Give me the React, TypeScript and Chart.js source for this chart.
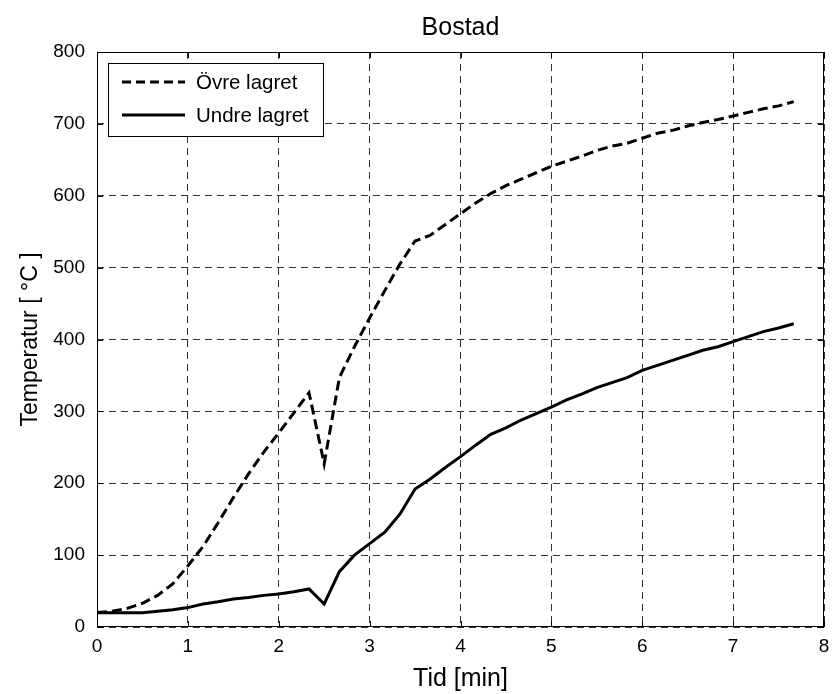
import React, { useEffect, useRef } from "react";
import { Chart, registerables } from "chart.js";

Chart.register(...registerables);

const TITLE = "Bostad";
const X_TITLE = "Tid [min]";
const Y_TITLE = "Temperatur [ °C ]";
const SERIES_NAMES = ["Övre lagret", "Undre lagret"];

// time in minutes (10 s steps)
const TIME = [
  0, 0.167, 0.333, 0.5, 0.667, 0.833, 1.0, 1.167, 1.333, 1.5, 1.667, 1.833,
  2.0, 2.167, 2.333, 2.5, 2.667, 2.833, 3.0, 3.167, 3.333, 3.5, 3.667, 3.833,
  4.0, 4.167, 4.333, 4.5, 4.667, 4.833, 5.0, 5.167, 5.333, 5.5, 5.667, 5.833,
  6.0, 6.167, 6.333, 6.5, 6.667, 6.833, 7.0, 7.167, 7.333, 7.5, 7.667,
];

const OVRE = [
  20, 22, 26, 33, 44, 60, 85, 112, 145, 180, 213, 243,
  270, 298, 326, 227, 347, 390, 430, 468, 505, 537, 545, 560,
  575, 590, 603, 614, 623, 632, 641, 648, 655, 663, 669, 673,
  680, 687, 691, 697, 702, 706, 711, 716, 721, 725, 731,
];

const UNDRE = [
  20, 20, 20, 20, 22, 24, 27, 32, 35, 39, 41, 44,
  46, 49, 53, 32, 77, 100, 116, 132, 157, 192, 206, 222,
  237, 253, 268, 277, 288, 297, 306, 316, 324, 333, 340, 347,
  357, 364, 371, 378, 385, 390, 397, 404, 411, 416, 422,
];

const X_MIN = 0;
const X_MAX = 8;
const Y_MIN = 0;
const Y_MAX = 800;

const FONT = "Arial, 'Liberation Sans', Helvetica, sans-serif";

const framePlugin = {
  id: "frame",
  afterDraw(chart: any) {
    const { ctx, chartArea: a, scales } = chart;
    const xs = scales.x;
    const ys = scales.y;
    ctx.save();
    ctx.strokeStyle = "#000";
    ctx.lineWidth = 1;
    ctx.setLineDash([]);
    ctx.strokeRect(a.left + 0.5, a.top + 0.5, a.right - a.left - 1, a.bottom - a.top - 1);
    const tl = 6;
    ctx.beginPath();
    for (let v = X_MIN; v <= X_MAX; v += 1) {
      const px = Math.round(xs.getPixelForValue(v)) + 0.5;
      ctx.moveTo(px, a.bottom);
      ctx.lineTo(px, a.bottom - tl);
      ctx.moveTo(px, a.top);
      ctx.lineTo(px, a.top + tl);
    }
    for (let v = Y_MIN; v <= Y_MAX; v += 100) {
      const py = Math.round(ys.getPixelForValue(v)) + 0.5;
      ctx.moveTo(a.left, py);
      ctx.lineTo(a.left + tl, py);
      ctx.moveTo(a.right, py);
      ctx.lineTo(a.right - tl, py);
    }
    ctx.stroke();

    ctx.fillStyle = "#000";
    ctx.font = `25px ${FONT}`;
    ctx.textAlign = "center";
    ctx.textBaseline = "middle";
    ctx.fillText(TITLE, (a.left + a.right) / 2, 28);

    const lx = 108, ly = 63, lw = 215, lh = 73;
    ctx.fillStyle = "#fff";
    ctx.fillRect(lx, ly, lw, lh);
    ctx.strokeStyle = "#000";
    ctx.lineWidth = 1;
    ctx.strokeRect(lx + 0.5, ly + 0.5, lw, lh);
    const rows = [
      { y: ly + 19, dash: [9, 5] },
      { y: ly + 52, dash: [] as number[] },
    ];
    ctx.font = `20.5px ${FONT}`;
    ctx.textAlign = "left";
    rows.forEach((r, i) => {
      ctx.beginPath();
      ctx.setLineDash(r.dash);
      ctx.lineWidth = 3;
      ctx.strokeStyle = "#000";
      ctx.moveTo(lx + 14, r.y);
      ctx.lineTo(lx + 77, r.y);
      ctx.stroke();
      ctx.setLineDash([]);
      ctx.fillStyle = "#000";
      ctx.fillText(SERIES_NAMES[i], lx + 88, r.y + 1);
    });
    ctx.restore();
  },
};

export default function App() {
  const ref = useRef<HTMLCanvasElement | null>(null);

  useEffect(() => {
    const canvas = ref.current;
    if (!canvas) return;
    const chart = new Chart(canvas, {
      type: "line",
      data: {
        datasets: [
          {
            label: SERIES_NAMES[0],
            data: TIME.map((t, i) => ({ x: t, y: OVRE[i] })),
            borderColor: "#000",
            borderWidth: 3,
            borderDash: [10, 5],
            pointRadius: 0,
            fill: false,
            tension: 0,
          },
          {
            label: SERIES_NAMES[1],
            data: TIME.map((t, i) => ({ x: t, y: UNDRE[i] })),
            borderColor: "#000",
            borderWidth: 3,
            pointRadius: 0,
            fill: false,
            tension: 0,
          },
        ],
      },
      options: {
        animation: false,
        responsive: false,
        devicePixelRatio: 1,
        events: [],
        layout: { padding: { top: 52, right: 8, left: 0, bottom: 0 } },
        plugins: {
          legend: { display: false },
          title: { display: false },
          tooltip: { enabled: false },
        },
        scales: {
          x: {
            type: "linear",
            min: X_MIN,
            max: X_MAX,
            afterFit: (s: any) => {
              s.height = 67;
              s.paddingLeft = 0;
              s.paddingRight = 0;
            },
            ticks: {
              stepSize: 1,
              color: "#000",
              font: { family: FONT, size: 19 },
              padding: 8,
              maxRotation: 0,
            },
            grid: { color: "#333", lineWidth: 1, drawTicks: false },
            border: { display: false, dash: [7, 5] },
            title: {
              display: true,
              text: X_TITLE,
              color: "#000",
              font: { family: FONT, size: 25 },
              padding: { top: 0, bottom: 0 },
            },
          },
          y: {
            type: "linear",
            min: Y_MIN,
            max: Y_MAX,
            afterFit: (s: any) => {
              s.width = 97;
              s.paddingTop = 0;
              s.paddingBottom = 0;
            },
            ticks: {
              stepSize: 100,
              color: "#000",
              font: { family: FONT, size: 19 },
              padding: 12,
            },
            grid: { color: "#333", lineWidth: 1, drawTicks: false },
            border: { display: false, dash: [7, 5] },
            title: {
              display: true,
              text: Y_TITLE,
              color: "#000",
              font: { family: FONT, size: 23 },
              padding: { top: 17, bottom: 0 },
            },
          },
        },
      },
      plugins: [framePlugin],
    });
    return () => chart.destroy();
  }, []);

  return (
    <div style={{ position: "fixed", left: 0, top: 0, width: 832, height: 694, background: "#fff" }}>
      <canvas ref={ref} width={832} height={694} style={{ display: "block" }} />
    </div>
  );
}
